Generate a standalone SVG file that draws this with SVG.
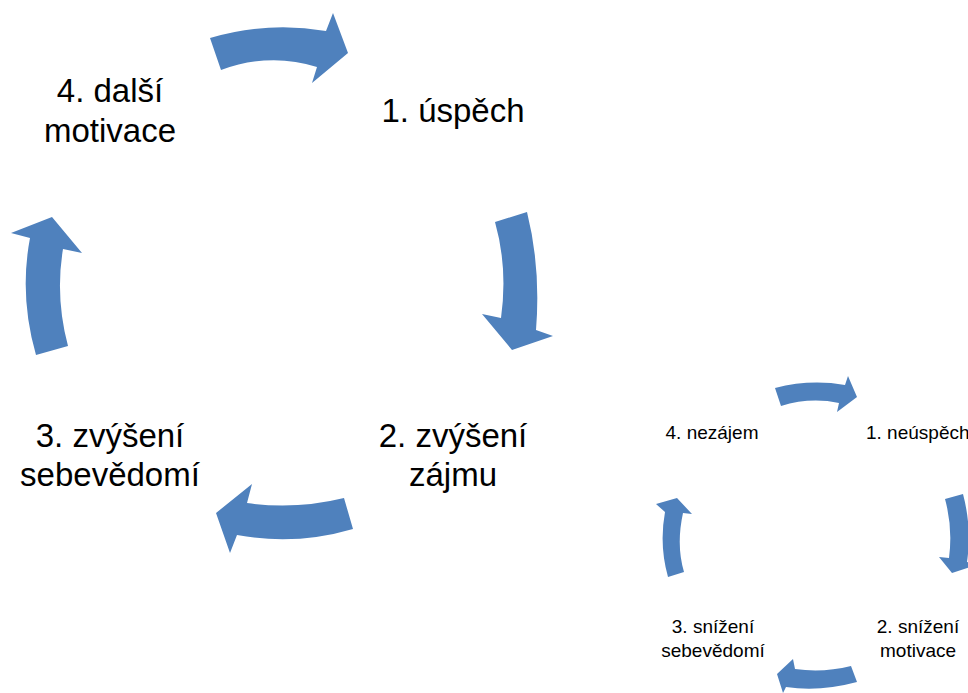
<svg xmlns="http://www.w3.org/2000/svg" width="968" height="693" viewBox="0 0 968 693">
<style>
.arr{fill:#4F81BD;stroke:none}
.big{font-family:"Liberation Sans",Arial,sans-serif;font-size:33px;fill:#000;text-anchor:middle}
.sm{font-family:"Liberation Sans",Arial,sans-serif;font-size:19px;fill:#000;text-anchor:middle}
</style>
<rect width="968" height="693" fill="#fff"/>
<g id="connectors">
<path class="arr" d="M210,38 Q268,21 326,31 L333,13 L348,53 L312,83 L317,67 Q270,52 221,70 Z"/>
<path class="arr" d="M495,222 L527,212 Q541,268 536,330 L553,336 L512,350 L482,314 L501,318 Q508,268 495,222 Z"/>
<path class="arr" d="M344,498 L353,529 Q295,546 237,535 L230,553 L216,513 L252,484 L247,503 Q295,510 344,498 Z"/>
<path class="arr" d="M36,355 L68,346 Q55,297 63,249 L82,253 L52,217 L11,233 L30,238 Q19,296 36,355 Z"/>
<path class="arr" d="M775,388 Q810,379 845,385 L848,376 L857,397 L837,412 L839,403 Q810,397 781,406 Z"/>
<path class="arr" d="M945,499 L963,494 Q972,528 967,562 L976,565 L952,573 L939,557 L949,558 Q953,528 945,499 Z"/>
<path class="arr" d="M851,666 L857,682 Q820,692 786,687 L783,693 L777,674 L793,659 L795,669 Q823,673 851,666 Z"/>
<path class="arr" d="M668,577 L684,572 Q676,545 683,513 L692,514 L677,498 L656,504 L665,512 Q659,545 668,577 Z"/>
</g>
<g id="n1"><text class="big" x="453" y="122">1. úspěch</text></g>
<g id="n2"><text class="big" x="453" y="447">2. zvýšení</text><text class="big" x="453" y="486">zájmu</text></g>
<g id="n3"><text class="big" x="110" y="447">3. zvýšení</text><text class="big" x="110" y="486">sebevědomí</text></g>
<g id="n4"><text class="big" x="110" y="102">4. další</text><text class="big" x="110" y="142">motivace</text></g>
<g id="s1"><text class="sm" x="866" y="439" style="text-anchor:start">1. neúspěch</text></g>
<g id="s2"><text class="sm" x="918" y="633">2. snížení</text><text class="sm" x="918" y="657">motivace</text></g>
<g id="s3"><text class="sm" x="713" y="633">3. snížení</text><text class="sm" x="713" y="657">sebevědomí</text></g>
<g id="s4"><text class="sm" x="712" y="439">4. nezájem</text></g>
</svg>
